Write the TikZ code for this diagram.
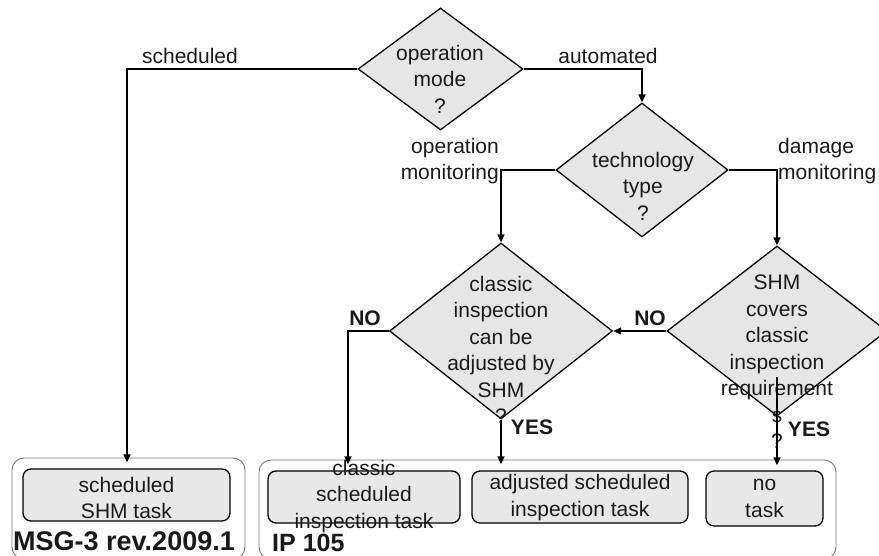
\documentclass[tikz,border=0pt]{standalone}
\usepackage{fontspec}
\setmainfont{Liberation Sans}
\usetikzlibrary{shapes.geometric,arrows.meta,calc}
\definecolor{dfill}{RGB}{230,230,230}
\definecolor{bfill}{RGB}{232,232,232}
\definecolor{gcol}{RGB}{120,120,120}
\definecolor{tcol}{RGB}{25,25,25}
\begin{document}
\begin{tikzpicture}[x=1pt,y=-1pt,
  dec/.style={diamond, draw=black, fill=dfill, line width=1.3pt, inner sep=0pt},
  txt/.style={align=center, font=\fontsize{21}{26.5}\selectfont, inner sep=0pt, text=tcol},
  lbl/.style={font=\fontsize{21}{26.5}\selectfont, inner sep=0pt, text=tcol},
  yn/.style={font=\bfseries\fontsize{21}{24}\selectfont, inner sep=0pt, text=tcol},
  big/.style={font=\bfseries\fontsize{27}{30}\selectfont, inner sep=0pt, text=tcol},
  grp/.style={draw=gcol, line width=0.9pt, rounded corners=12pt, inner sep=0pt},
  taskbox/.style={draw=black, fill=bfill, line width=1.3pt, rounded corners=8pt, inner sep=0pt},
  conn/.style={line width=1.4pt},
  arr/.style={conn, -{Triangle[length=8pt,width=7pt]}},
]
\useasboundingbox (0,0) rectangle (879,556);

% groups
\node[grp, minimum width=233pt, minimum height=101pt] (g1) at (128.5,508.5) {};
\node[grp, minimum width=577pt, minimum height=99pt] (g2) at (547.5,509.5) {};

% decisions
\node[dec, minimum width=165pt, minimum height=122pt] (d1) at (440.5,69) {};
\node[dec, minimum width=172pt, minimum height=134pt] (d2) at (642,170) {};
\node[dec, minimum width=223pt, minimum height=176pt] (d3) at (501,331) {};
\node[dec, minimum width=220pt, minimum height=170pt] (d4) at (777,331) {};

\node[txt] (d1t) at (440,79) {operation\\mode\\?};
\node[txt] (d2t) at (643,186) {technology\\type\\?};
\node[txt] (d3t) at (501,350) {classic\\inspection\\can be\\adjusted by\\SHM\\?};
\node[txt] (d4t) at (777,362) {SHM\\covers\\classic\\inspection\\requirement\\s\\?};

% task boxes
\node[taskbox, minimum width=207pt, minimum height=52pt] (b1) at (126.5,495) {};
\node[taskbox, minimum width=192pt, minimum height=52pt] (b2) at (364,497) {};
\node[taskbox, minimum width=216pt, minimum height=52pt] (b3) at (580,497) {};
\node[taskbox, minimum width=117pt, minimum height=55pt] (b4) at (764.5,498.5) {};

\node[txt] (b1t) at (126.5,498) {scheduled\\SHM task};
\node[txt] (b2t) at (364,496.5) {classic\\scheduled\\inspection task};
\node[txt] (b3t) at (580,497.5) {adjusted scheduled\\inspection task};
\node[txt] (b4t) at (764.5,498.5) {no\\task};

\node[big, anchor=west] (msg) at (13,541) {MSG-3 rev.2009.1};
\node[big, anchor=west, font=\bfseries\fontsize{25}{28}\selectfont] (ip) at (272,543) {IP 105};

% edge labels
\node[lbl] (lsched) at (190,56) {scheduled};
\node[lbl] (lauto) at (608,56) {automated};
\node[lbl, anchor=east, align=right] (lop) at (499,161) {operation\\monitoring};
\node[lbl, anchor=west, align=left] (ldmg) at (778,161) {damage\\monitoring};
\node[yn] (no1) at (365,318) {NO};
\node[yn] (no2) at (650,318) {NO};
\node[yn] (yes1) at (532,427) {YES};
\node[yn] (yes2) at (809,429) {YES};

% connectors
\coordinate (k1) at (127,69);
\coordinate (k3) at (348,331);
\coordinate (k4) at (777,377);
\draw[arr, shorten >=6pt] (d1.west) -- (k1) -- (k1 |- b1.north);
\draw[arr] (d1.east) -| (d2.north);
\draw[arr] (d2.west) -| (d3.north);
\draw[arr] (d2.east) -| (d4.north);
\draw[arr] (d4.west) -- (d3.east);
\draw[arr, shorten >=6pt] (d3.west) -- (k3) -- (k3 |- b2.north);
\draw[arr, shorten >=6pt] (d3.south) -- (d3.south |- b3.north);
\draw[arr, shorten >=5pt] (k4) -- (k4 |- b4.north);
\end{tikzpicture}
\end{document}
